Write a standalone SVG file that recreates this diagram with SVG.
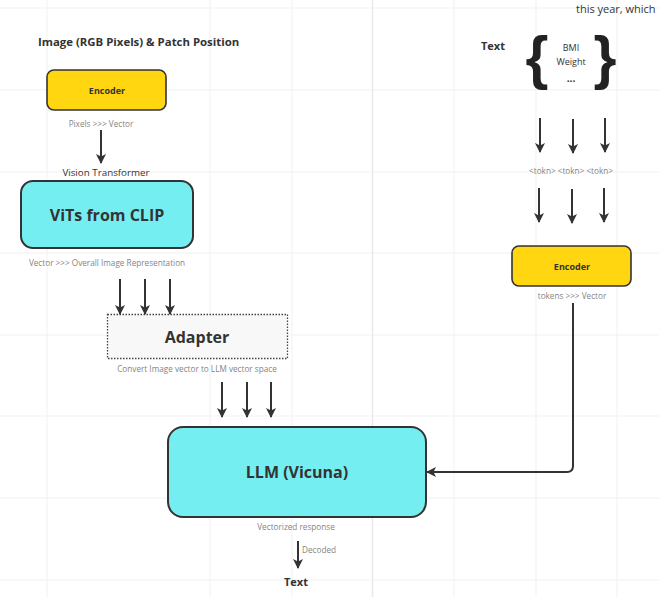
<svg xmlns="http://www.w3.org/2000/svg" width="659" height="597" viewBox="0 0 659 597">
<defs>
<marker id="ah" viewBox="0 0 10 10" refX="9" refY="5" markerWidth="10" markerHeight="10" markerUnits="userSpaceOnUse" orient="auto">
<path d="M0,0 L10,5 L0,10 L2.5,5 Z" fill="#333"/>
</marker>
</defs>
<style>
.grid line{stroke:#f1f1f1;stroke-width:1}
.t{font-family:"Open Sans","Noto Sans","Liberation Sans",sans-serif;fill:#333}
.b{font-weight:bold}
.s{font-size:8.2px;fill:#858585}
.c{text-anchor:middle}
.br{font-family:"Liberation Sans",Arial,sans-serif;font-weight:bold;font-size:59px;fill:#222;text-anchor:middle}
.enc{fill:#FFD60F;stroke:#333;stroke-width:1.6}
.cy{fill:#75EEF2;stroke:#333;stroke-width:2}
.arr{stroke:#333;stroke-width:2;fill:none;marker-end:url(#ah)}
</style>
<rect width="659" height="597" fill="#fff"/>
<g class="grid">
<line x1="47" y1="0" x2="47" y2="597"/>
<line x1="210" y1="0" x2="210" y2="597"/>
<line x1="292" y1="0" x2="292" y2="597"/>
<line x1="454" y1="0" x2="454" y2="597"/>
<line x1="536" y1="0" x2="536" y2="597"/>
<line x1="617" y1="0" x2="617" y2="597"/>
<line x1="0" y1="8" x2="659" y2="8"/>
<line x1="0" y1="90" x2="659" y2="90"/>
<line x1="0" y1="172" x2="659" y2="172"/>
<line x1="0" y1="253" x2="659" y2="253"/>
<line x1="0" y1="335" x2="659" y2="335"/>
<line x1="0" y1="416" x2="659" y2="416"/>
<line x1="0" y1="498" x2="659" y2="498"/>
<line x1="0" y1="580" x2="659" y2="580"/>
<line x1="372.5" y1="0" x2="372.5" y2="597" style="stroke:#e9e9e9;stroke-width:1.5"/>
</g>
<g id="labels">
<text class="t b" x="38" y="46" font-size="11.4">Image (RGB Pixels) &amp; Patch Position</text>
<text class="t" x="576" y="13" font-size="11">this year, which</text>
<text class="t b" x="481" y="50" font-size="11">Text</text>
<text class="t s c" x="101" y="127" font-size="8.6">Pixels  &gt;&gt;&gt;  Vector</text>
<text class="t c" x="106" y="176" font-size="9.8">Vision Transformer</text>
<text class="t s c" x="107" y="266" font-size="8.6">Vector  &gt;&gt;&gt;  Overall Image Representation</text>
<text class="t s c" x="197" y="372">Convert Image vector to LLM vector space</text>
<text class="t s c" x="296" y="530">Vectorized response</text>
<text class="t s" x="302" y="553">Decoded</text>
<text class="t b c" x="296" y="586" font-size="11">Text</text>
<text class="t s c" x="571" y="174" font-size="9.8">&lt;tokn&gt; &lt;tokn&gt; &lt;tokn&gt;</text>
<text class="t s c" x="572" y="299" font-size="8.8">tokens  &gt;&gt;&gt;  Vector</text>
</g>
<g id="text-input">
<text class="br" x="537" y="78">{</text>
<text class="br" x="605" y="78">}</text>
<text class="t c" x="571" y="51" font-size="9" fill="#555">BMI</text>
<text class="t c" x="571" y="65" font-size="9" fill="#555">Weight</text>
<text class="t b c" x="571" y="82" font-size="10">...</text>
</g>
<g id="encoder-image">
<rect class="enc" x="47" y="70" width="119" height="40" rx="7"/>
<text class="t b c" x="107" y="94" font-size="9">Encoder</text>
</g>
<g id="vits">
<rect class="cy" x="21" y="181" width="172" height="67" rx="12"/>
<text class="t b c" x="107" y="221" font-size="16">ViTs from CLIP</text>
</g>
<g id="adapter">
<rect x="107.5" y="314.5" width="180" height="44" fill="#f8f8f8" stroke="#444" stroke-width="1.3" stroke-dasharray="1.5 1.5"/>
<text class="t b c" x="197" y="343" font-size="16">Adapter</text>
</g>
<g id="llm">
<rect class="cy" x="168" y="427" width="258" height="90" rx="15"/>
<text class="t b c" x="297" y="478" font-size="16">LLM (Vicuna)</text>
</g>
<g id="encoder-text">
<rect class="enc" x="512" y="246" width="119" height="40" rx="7"/>
<text class="t b c" x="572" y="270" font-size="9">Encoder</text>
</g>
<g id="connectors">
<line class="arr" x1="101" y1="130" x2="101" y2="163"/>
<line class="arr" x1="120" y1="279" x2="120" y2="314"/>
<line class="arr" x1="145" y1="279" x2="145" y2="314"/>
<line class="arr" x1="170" y1="279" x2="170" y2="314"/>
<line class="arr" x1="222" y1="382" x2="222" y2="417"/>
<line class="arr" x1="247" y1="382" x2="247" y2="417"/>
<line class="arr" x1="271" y1="382" x2="271" y2="417"/>
<line class="arr" x1="298" y1="541" x2="298" y2="568"/>
<line class="arr" x1="540" y1="118" x2="540" y2="152"/>
<line class="arr" x1="573" y1="119" x2="573" y2="153"/>
<line class="arr" x1="605" y1="118" x2="605" y2="152"/>
<line class="arr" x1="539" y1="188" x2="539" y2="222"/>
<line class="arr" x1="572" y1="189" x2="572" y2="223"/>
<line class="arr" x1="604" y1="188" x2="604" y2="222"/>
<path class="arr" d="M573,303 V466 Q573,472 567,472 H427"/>
</g>
</svg>
